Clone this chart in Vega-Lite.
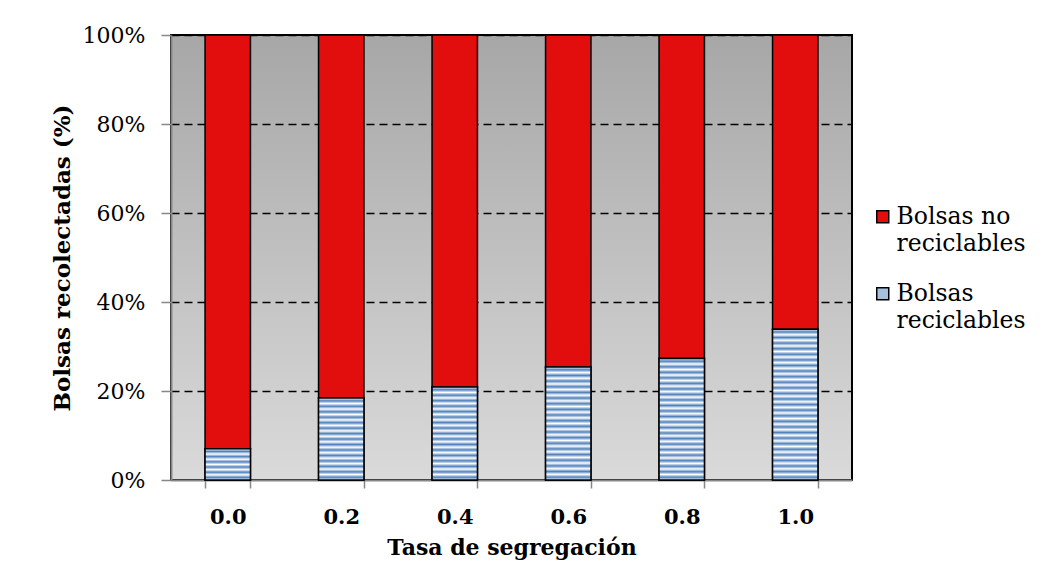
{
  "$schema": "https://vega.github.io/schema/vega-lite/v6.json",
  "width": 681,
  "height": 445,
  "autosize": {"type": "none"},
  "padding": {"left": 171, "top": 35, "right": 193, "bottom": 100},
  "background": "white",
  "config": {
    "font": "DejaVu Serif",
    "view": {
      "fill": {"gradient": "linear", "x1": 0, "y1": 0, "x2": 0, "y2": 1, "stops": [{"offset": 0, "color": "#a7a7a7"}, {"offset": 1, "color": "#dadada"}]},
      "stroke": "black",
      "strokeWidth": 2
    },
    "style": {"guide-label": {"lineHeight": 27}},
    "axis": {"labelColor": "black", "titleColor": "black", "labelFont": "DejaVu Serif", "titleFont": "DejaVu Serif"}
  },
  "data": {
    "values": [
      {"tasa": "0.0", "tipo": "Bolsas reciclables", "valor": 7.0},
      {"tasa": "0.0", "tipo": "Bolsas no reciclables", "valor": 93.0},
      {"tasa": "0.2", "tipo": "Bolsas reciclables", "valor": 18.4},
      {"tasa": "0.2", "tipo": "Bolsas no reciclables", "valor": 81.6},
      {"tasa": "0.4", "tipo": "Bolsas reciclables", "valor": 20.9},
      {"tasa": "0.4", "tipo": "Bolsas no reciclables", "valor": 79.1},
      {"tasa": "0.6", "tipo": "Bolsas reciclables", "valor": 25.4},
      {"tasa": "0.6", "tipo": "Bolsas no reciclables", "valor": 74.6},
      {"tasa": "0.8", "tipo": "Bolsas reciclables", "valor": 27.3},
      {"tasa": "0.8", "tipo": "Bolsas no reciclables", "valor": 72.7},
      {"tasa": "1.0", "tipo": "Bolsas reciclables", "valor": 33.9},
      {"tasa": "1.0", "tipo": "Bolsas no reciclables", "valor": 66.1}
    ]
  },
  "encoding": {
    "x": {
      "field": "tasa",
      "type": "ordinal",
      "scale": {"paddingInner": 0.6, "paddingOuter": 0.3},
      "axis": {
        "title": "Tasa de segregación",
        "labelAngle": 0,
        "tickBand": "extent",
        "labelFontWeight": "bold",
        "labelFontSize": 21,
        "titleFontSize": 22,
        "titleFontWeight": "bold",
        "domainColor": "#878787",
        "domainWidth": 2,
        "tickColor": "#878787",
        "tickSize": 8,
        "tickWidth": 1.5,
        "labelPadding": 18,
        "titlePadding": 10,
        "grid": false
      }
    },
    "y": {
      "field": "valor",
      "type": "quantitative",
      "stack": "zero",
      "scale": {"domain": [0, 100]},
      "axis": {
        "title": "Bolsas recolectadas (%)",
        "values": [0, 20, 40, 60, 80, 100],
        "labelExpr": "datum.value + '%'",
        "labelFontSize": 22,
        "titleFontSize": 23,
        "titleFontWeight": "bold",
        "domainColor": "#878787",
        "domainWidth": 2,
        "tickColor": "#878787",
        "tickSize": 10,
        "tickWidth": 1.5,
        "labelPadding": 16,
        "titlePadding": 8,
        "grid": true,
        "gridColor": "black",
        "gridDash": [8, 5],
        "gridWidth": 1.3,
        "gridOpacity": {"condition": {"test": "datum.value === 0", "value": 0}, "value": 1}
      }
    }
  },
  "layer": [
    {
      "mark": {"type": "bar", "stroke": "black", "strokeWidth": 1.5},
      "encoding": {
        "color": {
          "field": "tipo",
          "type": "nominal",
          "scale": {
            "domain": ["Bolsas no reciclables", "Bolsas reciclables"],
            "range": ["#e20d0d", "#a7c0de"]
          },
          "legend": {
            "title": null,
            "orient": "none",
            "legendX": 700,
            "legendY": 170,
            "padding": 0,
            "symbolType": "square",
            "symbolSize": 144,
            "symbolStrokeColor": "black",
            "symbolStrokeWidth": 1.5,
            "symbolOpacity": 1,
            "labelFont": "DejaVu Serif",
            "labelFontSize": 23.5,
            "labelColor": "black",
            "labelLimit": 400,
            "labelOffset": 2,
            "rowPadding": 25,
            "labelExpr": "datum.label === 'Bolsas no reciclables' ? ['Bolsas no', 'reciclables'] : ['Bolsas', 'reciclables']"
          }
        },
        "order": {"field": "tipo", "sort": "descending"}
      }
    },
    {
      "transform": [{"filter": "datum.tipo === 'Bolsas reciclables'"}],
      "mark": {"type": "bar", "stroke": "black", "strokeWidth": 1.5},
      "encoding": {
        "fill": {
          "condition": [
            {"test": "datum.tasa === '0.0'", "value": {"gradient": "linear", "x1": 0, "y1": 0, "x2": 0, "y2": 1, "stops": [
              {"offset": 0, "color": "#ffffff"}, {"offset": 0.0833, "color": "#4f81bd"}, {"offset": 0.1667, "color": "#ffffff"}, {"offset": 0.25, "color": "#4f81bd"}, {"offset": 0.3333, "color": "#ffffff"}, {"offset": 0.4167, "color": "#4f81bd"}, {"offset": 0.5, "color": "#ffffff"}, {"offset": 0.5833, "color": "#4f81bd"}, {"offset": 0.6667, "color": "#ffffff"}, {"offset": 0.75, "color": "#4f81bd"}, {"offset": 0.8333, "color": "#ffffff"}, {"offset": 0.9167, "color": "#4f81bd"}, {"offset": 1, "color": "#ffffff"}]}},
            {"test": "datum.tasa === '0.2'", "value": {"gradient": "linear", "x1": 0, "y1": 0, "x2": 0, "y2": 1, "stops": [
              {"offset": 0, "color": "#ffffff"}, {"offset": 0.0333, "color": "#4f81bd"}, {"offset": 0.0667, "color": "#ffffff"}, {"offset": 0.1, "color": "#4f81bd"}, {"offset": 0.1333, "color": "#ffffff"}, {"offset": 0.1667, "color": "#4f81bd"}, {"offset": 0.2, "color": "#ffffff"}, {"offset": 0.2333, "color": "#4f81bd"}, {"offset": 0.2667, "color": "#ffffff"}, {"offset": 0.3, "color": "#4f81bd"}, {"offset": 0.3333, "color": "#ffffff"}, {"offset": 0.3667, "color": "#4f81bd"}, {"offset": 0.4, "color": "#ffffff"}, {"offset": 0.4333, "color": "#4f81bd"}, {"offset": 0.4667, "color": "#ffffff"}, {"offset": 0.5, "color": "#4f81bd"}, {"offset": 0.5333, "color": "#ffffff"}, {"offset": 0.5667, "color": "#4f81bd"}, {"offset": 0.6, "color": "#ffffff"}, {"offset": 0.6333, "color": "#4f81bd"}, {"offset": 0.6667, "color": "#ffffff"}, {"offset": 0.7, "color": "#4f81bd"}, {"offset": 0.7333, "color": "#ffffff"}, {"offset": 0.7667, "color": "#4f81bd"}, {"offset": 0.8, "color": "#ffffff"}, {"offset": 0.8333, "color": "#4f81bd"}, {"offset": 0.8667, "color": "#ffffff"}, {"offset": 0.9, "color": "#4f81bd"}, {"offset": 0.9333, "color": "#ffffff"}, {"offset": 0.9667, "color": "#4f81bd"}, {"offset": 1, "color": "#ffffff"}]}},
            {"test": "datum.tasa === '0.4'", "value": {"gradient": "linear", "x1": 0, "y1": 0, "x2": 0, "y2": 1, "stops": [
              {"offset": 0, "color": "#ffffff"}, {"offset": 0.0294, "color": "#4f81bd"}, {"offset": 0.0588, "color": "#ffffff"}, {"offset": 0.0882, "color": "#4f81bd"}, {"offset": 0.1176, "color": "#ffffff"}, {"offset": 0.1471, "color": "#4f81bd"}, {"offset": 0.1765, "color": "#ffffff"}, {"offset": 0.2059, "color": "#4f81bd"}, {"offset": 0.2353, "color": "#ffffff"}, {"offset": 0.2647, "color": "#4f81bd"}, {"offset": 0.2941, "color": "#ffffff"}, {"offset": 0.3235, "color": "#4f81bd"}, {"offset": 0.3529, "color": "#ffffff"}, {"offset": 0.3824, "color": "#4f81bd"}, {"offset": 0.4118, "color": "#ffffff"}, {"offset": 0.4412, "color": "#4f81bd"}, {"offset": 0.4706, "color": "#ffffff"}, {"offset": 0.5, "color": "#4f81bd"}, {"offset": 0.5294, "color": "#ffffff"}, {"offset": 0.5588, "color": "#4f81bd"}, {"offset": 0.5882, "color": "#ffffff"}, {"offset": 0.6176, "color": "#4f81bd"}, {"offset": 0.6471, "color": "#ffffff"}, {"offset": 0.6765, "color": "#4f81bd"}, {"offset": 0.7059, "color": "#ffffff"}, {"offset": 0.7353, "color": "#4f81bd"}, {"offset": 0.7647, "color": "#ffffff"}, {"offset": 0.7941, "color": "#4f81bd"}, {"offset": 0.8235, "color": "#ffffff"}, {"offset": 0.8529, "color": "#4f81bd"}, {"offset": 0.8824, "color": "#ffffff"}, {"offset": 0.9118, "color": "#4f81bd"}, {"offset": 0.9412, "color": "#ffffff"}, {"offset": 0.9706, "color": "#4f81bd"}, {"offset": 1, "color": "#ffffff"}]}},
            {"test": "datum.tasa === '0.6'", "value": {"gradient": "linear", "x1": 0, "y1": 0, "x2": 0, "y2": 1, "stops": [
              {"offset": 0, "color": "#ffffff"}, {"offset": 0.025, "color": "#4f81bd"}, {"offset": 0.05, "color": "#ffffff"}, {"offset": 0.075, "color": "#4f81bd"}, {"offset": 0.1, "color": "#ffffff"}, {"offset": 0.125, "color": "#4f81bd"}, {"offset": 0.15, "color": "#ffffff"}, {"offset": 0.175, "color": "#4f81bd"}, {"offset": 0.2, "color": "#ffffff"}, {"offset": 0.225, "color": "#4f81bd"}, {"offset": 0.25, "color": "#ffffff"}, {"offset": 0.275, "color": "#4f81bd"}, {"offset": 0.3, "color": "#ffffff"}, {"offset": 0.325, "color": "#4f81bd"}, {"offset": 0.35, "color": "#ffffff"}, {"offset": 0.375, "color": "#4f81bd"}, {"offset": 0.4, "color": "#ffffff"}, {"offset": 0.425, "color": "#4f81bd"}, {"offset": 0.45, "color": "#ffffff"}, {"offset": 0.475, "color": "#4f81bd"}, {"offset": 0.5, "color": "#ffffff"}, {"offset": 0.525, "color": "#4f81bd"}, {"offset": 0.55, "color": "#ffffff"}, {"offset": 0.575, "color": "#4f81bd"}, {"offset": 0.6, "color": "#ffffff"}, {"offset": 0.625, "color": "#4f81bd"}, {"offset": 0.65, "color": "#ffffff"}, {"offset": 0.675, "color": "#4f81bd"}, {"offset": 0.7, "color": "#ffffff"}, {"offset": 0.725, "color": "#4f81bd"}, {"offset": 0.75, "color": "#ffffff"}, {"offset": 0.775, "color": "#4f81bd"}, {"offset": 0.8, "color": "#ffffff"}, {"offset": 0.825, "color": "#4f81bd"}, {"offset": 0.85, "color": "#ffffff"}, {"offset": 0.875, "color": "#4f81bd"}, {"offset": 0.9, "color": "#ffffff"}, {"offset": 0.925, "color": "#4f81bd"}, {"offset": 0.95, "color": "#ffffff"}, {"offset": 0.975, "color": "#4f81bd"}, {"offset": 1, "color": "#ffffff"}]}},
            {"test": "datum.tasa === '0.8'", "value": {"gradient": "linear", "x1": 0, "y1": 0, "x2": 0, "y2": 1, "stops": [
              {"offset": 0, "color": "#ffffff"}, {"offset": 0.0227, "color": "#4f81bd"}, {"offset": 0.0455, "color": "#ffffff"}, {"offset": 0.0682, "color": "#4f81bd"}, {"offset": 0.0909, "color": "#ffffff"}, {"offset": 0.1136, "color": "#4f81bd"}, {"offset": 0.1364, "color": "#ffffff"}, {"offset": 0.1591, "color": "#4f81bd"}, {"offset": 0.1818, "color": "#ffffff"}, {"offset": 0.2045, "color": "#4f81bd"}, {"offset": 0.2273, "color": "#ffffff"}, {"offset": 0.25, "color": "#4f81bd"}, {"offset": 0.2727, "color": "#ffffff"}, {"offset": 0.2955, "color": "#4f81bd"}, {"offset": 0.3182, "color": "#ffffff"}, {"offset": 0.3409, "color": "#4f81bd"}, {"offset": 0.3636, "color": "#ffffff"}, {"offset": 0.3864, "color": "#4f81bd"}, {"offset": 0.4091, "color": "#ffffff"}, {"offset": 0.4318, "color": "#4f81bd"}, {"offset": 0.4545, "color": "#ffffff"}, {"offset": 0.4773, "color": "#4f81bd"}, {"offset": 0.5, "color": "#ffffff"}, {"offset": 0.5227, "color": "#4f81bd"}, {"offset": 0.5455, "color": "#ffffff"}, {"offset": 0.5682, "color": "#4f81bd"}, {"offset": 0.5909, "color": "#ffffff"}, {"offset": 0.6136, "color": "#4f81bd"}, {"offset": 0.6364, "color": "#ffffff"}, {"offset": 0.6591, "color": "#4f81bd"}, {"offset": 0.6818, "color": "#ffffff"}, {"offset": 0.7045, "color": "#4f81bd"}, {"offset": 0.7273, "color": "#ffffff"}, {"offset": 0.75, "color": "#4f81bd"}, {"offset": 0.7727, "color": "#ffffff"}, {"offset": 0.7955, "color": "#4f81bd"}, {"offset": 0.8182, "color": "#ffffff"}, {"offset": 0.8409, "color": "#4f81bd"}, {"offset": 0.8636, "color": "#ffffff"}, {"offset": 0.8864, "color": "#4f81bd"}, {"offset": 0.9091, "color": "#ffffff"}, {"offset": 0.9318, "color": "#4f81bd"}, {"offset": 0.9545, "color": "#ffffff"}, {"offset": 0.9773, "color": "#4f81bd"}, {"offset": 1, "color": "#ffffff"}]}},
            {"test": "datum.tasa === '1.0'", "value": {"gradient": "linear", "x1": 0, "y1": 0, "x2": 0, "y2": 1, "stops": [
              {"offset": 0, "color": "#ffffff"}, {"offset": 0.0185, "color": "#4f81bd"}, {"offset": 0.037, "color": "#ffffff"}, {"offset": 0.0556, "color": "#4f81bd"}, {"offset": 0.0741, "color": "#ffffff"}, {"offset": 0.0926, "color": "#4f81bd"}, {"offset": 0.1111, "color": "#ffffff"}, {"offset": 0.1296, "color": "#4f81bd"}, {"offset": 0.1481, "color": "#ffffff"}, {"offset": 0.1667, "color": "#4f81bd"}, {"offset": 0.1852, "color": "#ffffff"}, {"offset": 0.2037, "color": "#4f81bd"}, {"offset": 0.2222, "color": "#ffffff"}, {"offset": 0.2407, "color": "#4f81bd"}, {"offset": 0.2593, "color": "#ffffff"}, {"offset": 0.2778, "color": "#4f81bd"}, {"offset": 0.2963, "color": "#ffffff"}, {"offset": 0.3148, "color": "#4f81bd"}, {"offset": 0.3333, "color": "#ffffff"}, {"offset": 0.3519, "color": "#4f81bd"}, {"offset": 0.3704, "color": "#ffffff"}, {"offset": 0.3889, "color": "#4f81bd"}, {"offset": 0.4074, "color": "#ffffff"}, {"offset": 0.4259, "color": "#4f81bd"}, {"offset": 0.4444, "color": "#ffffff"}, {"offset": 0.463, "color": "#4f81bd"}, {"offset": 0.4815, "color": "#ffffff"}, {"offset": 0.5, "color": "#4f81bd"}, {"offset": 0.5185, "color": "#ffffff"}, {"offset": 0.537, "color": "#4f81bd"}, {"offset": 0.5556, "color": "#ffffff"}, {"offset": 0.5741, "color": "#4f81bd"}, {"offset": 0.5926, "color": "#ffffff"}, {"offset": 0.6111, "color": "#4f81bd"}, {"offset": 0.6296, "color": "#ffffff"}, {"offset": 0.6481, "color": "#4f81bd"}, {"offset": 0.6667, "color": "#ffffff"}, {"offset": 0.6852, "color": "#4f81bd"}, {"offset": 0.7037, "color": "#ffffff"}, {"offset": 0.7222, "color": "#4f81bd"}, {"offset": 0.7407, "color": "#ffffff"}, {"offset": 0.7593, "color": "#4f81bd"}, {"offset": 0.7778, "color": "#ffffff"}, {"offset": 0.7963, "color": "#4f81bd"}, {"offset": 0.8148, "color": "#ffffff"}, {"offset": 0.8333, "color": "#4f81bd"}, {"offset": 0.8519, "color": "#ffffff"}, {"offset": 0.8704, "color": "#4f81bd"}, {"offset": 0.8889, "color": "#ffffff"}, {"offset": 0.9074, "color": "#4f81bd"}, {"offset": 0.9259, "color": "#ffffff"}, {"offset": 0.9444, "color": "#4f81bd"}, {"offset": 0.963, "color": "#ffffff"}, {"offset": 0.9815, "color": "#4f81bd"}, {"offset": 1, "color": "#ffffff"}]}}
          ],
          "value": "#a7c0de"
        }
      }
    }
  ]
}
